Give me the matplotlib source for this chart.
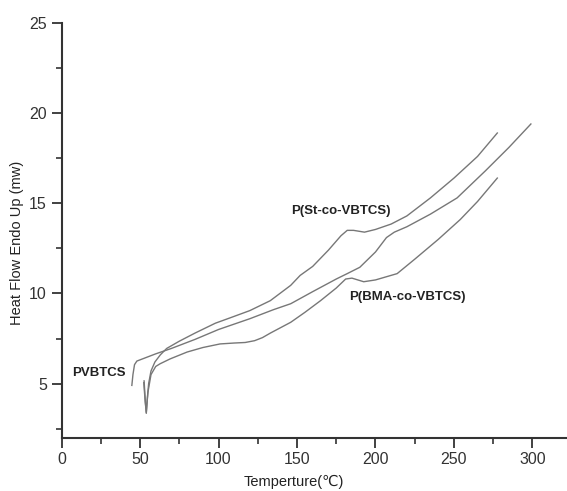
import matplotlib.pyplot as plt
from matplotlib.ticker import MultipleLocator

# DSC curves
pvbtcs_t = [44.8, 45.5, 46.5, 48, 60, 70, 85, 100, 120, 135, 146, 160, 175, 182,
            190, 200, 207, 212, 220, 235, 252, 270, 285, 299]
pvbtcs_h = [4.9, 5.5, 6.05, 6.25, 6.65, 6.95, 7.45, 8.0, 8.6, 9.1, 9.43, 10.1,
            10.8, 11.1, 11.45, 12.3, 13.1, 13.4, 13.7, 14.4, 15.3, 16.8, 18.1, 19.4]

st_t = [52.6, 53.4, 54.0, 54.6, 55.5, 57, 59.5, 63, 67, 75, 85, 98, 107.5, 120,
        133, 146, 152, 160, 170, 178, 182, 186, 193, 200, 210, 220, 235, 250,
        265, 277.6]
st_h = [5.15, 4.0, 3.35, 4.1, 5.0, 5.7, 6.2, 6.6, 6.95, 7.35, 7.8, 8.35, 8.65,
        9.05, 9.6, 10.45, 11.0, 11.5, 12.4, 13.2, 13.5, 13.5, 13.4, 13.55, 13.85,
        14.3, 15.3, 16.4, 17.6, 18.9]

bma_t = [52.4, 53.3, 54.0, 55.0, 57, 60, 62.8, 69.2, 80, 90, 101, 110, 117, 123,
         128, 133, 146, 155, 165, 175, 181, 185, 192.5, 200, 213.8, 225, 240, 254,
         265, 277.6]
bma_h = [5.05, 4.0, 3.4, 4.5, 5.5, 5.95, 6.1, 6.37, 6.75, 7.0, 7.2, 7.25, 7.28,
         7.38, 7.55, 7.8, 8.4, 8.95, 9.6, 10.3, 10.8, 10.85, 10.65, 10.75, 11.1,
         11.9, 13.0, 14.1, 15.1, 16.4]

labels = ["PVBTCS", "P(St-co-VBTCS)", "P(BMA-co-VBTCS)"]
label_pos = [(7.0, 5.6), (146.5, 14.55), (183.5, 9.8)]

plt.rcParams['font.family'] = ['Liberation Sans', 'DejaVu Sans']

fig = plt.figure(figsize=(5.67, 4.91), dpi=100)
ax = fig.add_axes([0.1085, 0.1086, 0.8915, 0.8445])

for t, h in [(pvbtcs_t, pvbtcs_h), (st_t, st_h), (bma_t, bma_h)]:
    ax.plot(t, h, color="#777777", linewidth=1.0)

for text, (x, y) in zip(labels, label_pos):
    ax.text(x, y, text, fontsize=9.5, fontweight="bold", color="#222222",
            ha="left", va="center")

ax.set_xlim(0, 322)
ax.set_ylim(2, 25)
ax.xaxis.set_major_locator(MultipleLocator(50))
ax.xaxis.set_minor_locator(MultipleLocator(25))
ax.yaxis.set_major_locator(MultipleLocator(5))
ax.yaxis.set_minor_locator(MultipleLocator(2.5))

for side in ["top", "right"]:
    ax.spines[side].set_visible(False)
for side in ["left", "bottom"]:
    ax.spines[side].set_linewidth(1.5)
    ax.spines[side].set_color("#333333")

ax.tick_params(which="major", direction="out", length=7, width=1.3,
               labelsize=11.5, colors="#333333", labelcolor="#333333")
ax.tick_params(which="minor", direction="out", length=4, width=1.2,
               colors="#333333")

ax.set_xlabel("Temperture(℃)", fontsize=10.5, color="#222222")
ax.set_ylabel("Heat Flow Endo Up (mw)", fontsize=10.5, color="#222222")
ax.xaxis.set_label_coords(0.46, -0.09)
ax.yaxis.set_label_coords(-0.075, 0.47)

fig.savefig("out.png", dpi=100)
